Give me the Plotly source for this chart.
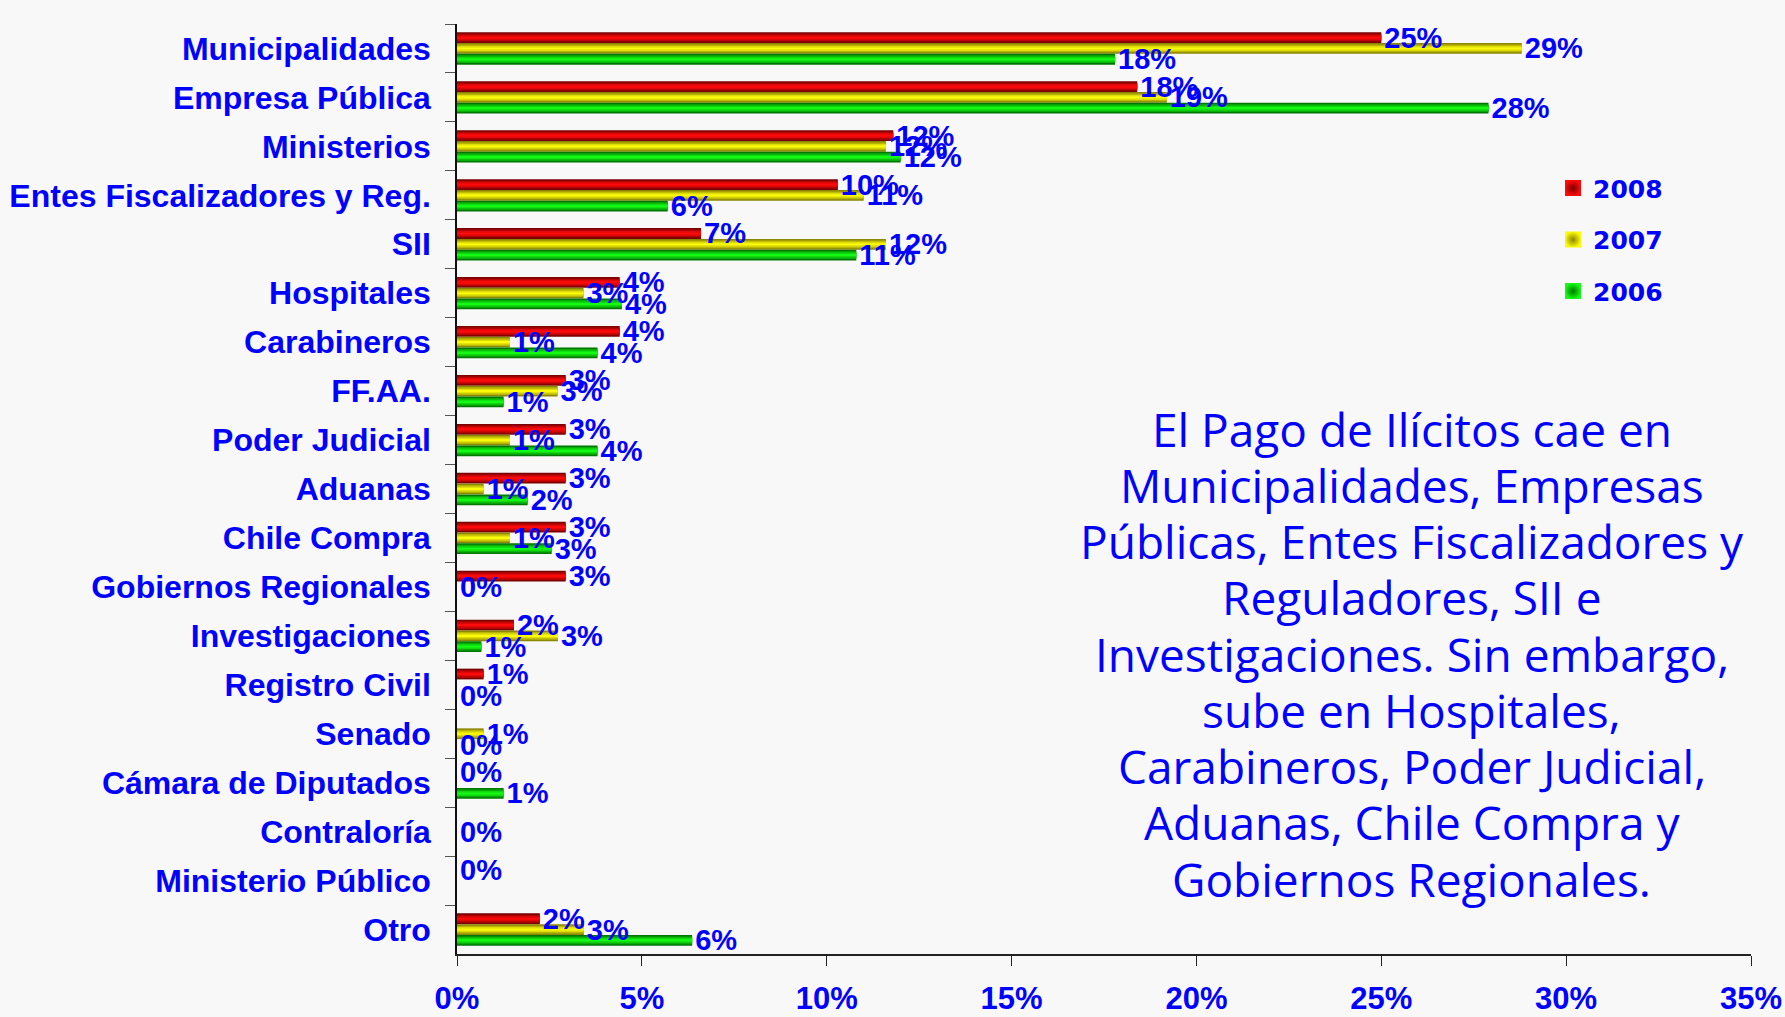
import plotly.graph_objects as go

categories = ["Municipalidades", "Empresa Pública", "Ministerios", "Entes Fiscalizadores y Reg.",
              "SII", "Hospitales", "Carabineros", "FF.AA.", "Poder Judicial", "Aduanas",
              "Chile Compra", "Gobiernos Regionales", "Investigaciones", "Registro Civil",
              "Senado", "Cámara de Diputados", "Contraloría", "Ministerio Público", "Otro"]

v2008 = [25.0, 18.4, 11.8, 10.3, 6.6, 4.4, 4.4, 2.94, 2.94, 2.94, 2.94, 2.94, 1.54, 0.72, 0, 0, 0, 0, 2.24]
v2007 = [28.8, 19.2, 11.6, 11.0, 11.6, 3.42, 1.43, 2.72, 1.43, 0.72, 1.43, 0, 2.73, 0, 0.72, 0, 0, 0, 3.43]
v2006 = [17.8, 27.9, 12.0, 5.7, 10.8, 4.46, 3.80, 1.26, 3.80, 1.91, 2.56, 0, 0.66, 0, 0, 1.26, 0, 0, 6.36]

series_names = ["2008", "2007", "2006"]
series_values = {"2008": v2008, "2007": v2007, "2006": v2006}

# which series carries the single "0%" label of a category
zero_label_series = {"Gobiernos Regionales": "2007", "Registro Civil": "2006", "Senado": "2006",
                     "Cámara de Diputados": "2008", "Contraloría": "2007", "Ministerio Público": "2008"}

annotation_lines = ["El Pago de Ilícitos cae en", "Municipalidades, Empresas",
                    "Públicas, Entes Fiscalizadores y", "Reguladores, SII e",
                    "Investigaciones. Sin embargo,", "sube en Hospitales,",
                    "Carabineros, Poder Judicial,", "Aduanas, Chile Compra y",
                    "Gobiernos Regionales."]

# ---- styling ----
BLUE = "#0000FF"
BG = "#F8F8F8"
ARIAL = "Liberation Sans, Arial, sans-serif"
edge = {"2008": (125, 0, 0), "2007": (140, 135, 0), "2006": (0, 120, 0)}
center = {"2008": (255, 10, 10), "2007": (250, 250, 10), "2006": (20, 250, 20)}
bar_w = 0.22
centers = {"2008": -0.22, "2007": 0.0, "2006": 0.22}
layers = [(1.0, 0.0), (0.72, 0.4), (0.46, 0.74), (0.2, 1.0)]


def rgb(c):
    return "rgb(%d,%d,%d)" % c


def mix(a, b, t):
    return "rgb(%d,%d,%d)" % tuple(round(a[i] + (b[i] - a[i]) * t) for i in range(3))


def label_list(name):
    vals = series_values[name]
    out = []
    for c, v in zip(categories, vals):
        if v > 0 or zero_label_series.get(c) == name:
            out.append("%d%%" % round(v))
        else:
            out.append("")
    return out


fig = go.Figure()
for name in series_names:
    vals = series_values[name]
    for li, (frac, t) in enumerate(layers):
        w = bar_w * frac
        fig.add_trace(go.Bar(
            y=categories, x=vals, orientation="h", name=name, legendgroup=name,
            showlegend=False, width=w, offset=centers[name] - w / 2,
            marker=dict(color=mix(edge[name], center[name], t), line=dict(width=0)),
            hoverinfo="skip"))

# labels on top of all bars
for name in series_names:
    vals = series_values[name]
    fig.add_trace(go.Bar(
        y=categories, x=vals, orientation="h", showlegend=False,
        width=bar_w, offset=centers[name] - bar_w / 2,
        marker=dict(color="rgba(0,0,0,0)", line=dict(width=0)),
        text=label_list(name), textposition="outside", constraintext="none",
        cliponaxis=False,
        textfont=dict(family=ARIAL, size=29, color=BLUE, weight="bold"),
        hoverinfo="skip"))

# legend entries (square swatches with radial shading)
for name in series_names:
    fig.add_trace(go.Scatter(
        x=[None], y=[None], mode="markers", name=name, legendgroup=name, showlegend=True,
        marker=dict(symbol="square", size=20, color=rgb(center[name]),
                    gradient=dict(type="radial", color=rgb(edge[name])),
                    line=dict(width=0)),
        hoverinfo="skip"))

# annotation lines
line_top = 0.565
line_step = 0.0605
for i, txt in enumerate(annotation_lines):
    fig.add_annotation(text=txt, xref="paper", yref="paper", x=0.738, y=line_top - i * line_step,
                       xanchor="center", yanchor="middle", showarrow=False,
                       font=dict(family="Open Sans", size=46, color=BLUE))

fig.update_layout(
    width=1785, height=1017,
    margin=dict(l=457, r=34, t=24, b=63, autoexpand=False),
    paper_bgcolor=BG, plot_bgcolor=BG,
    barmode="overlay",
    showlegend=True,
    legend=dict(x=0.847, y=0.848, xanchor="left", yanchor="top",
                bgcolor="rgba(0,0,0,0)", tracegroupgap=16, traceorder="grouped",
                font=dict(family="DejaVu Sans", size=25, color=BLUE, weight="bold")),
    xaxis=dict(range=[0, 35], dtick=5, ticksuffix="%", showgrid=False, zeroline=False,
               showline=True, linecolor="#222", linewidth=2, ticks="outside", ticklen=10,
               tickcolor="#222", ticklabelstandoff=6, automargin=False,
               tickfont=dict(family=ARIAL, size=31, color=BLUE, weight="bold")),
    yaxis=dict(type="category", range=[18.5, -0.5], showgrid=False, zeroline=False,
               showline=True, linecolor="#111", linewidth=1.5, ticks="outside", ticklen=10,
               tickson="boundaries", tickcolor="#555", ticklabelstandoff=18, automargin=False,
               tickfont=dict(family=ARIAL, size=32, color=BLUE, weight="bold")),
)

fig.write_html("out.html", config={"displayModeBar": False},
               post_script="document.body.style.margin='0';document.body.style.overflow='hidden';"
                           "document.body.style.background='%s';" % BG)
